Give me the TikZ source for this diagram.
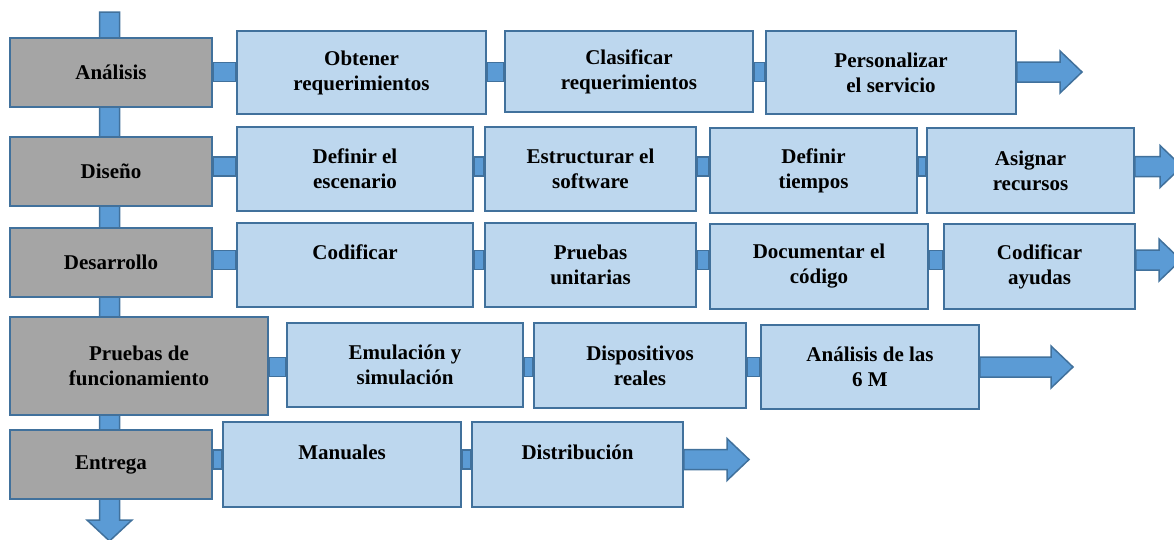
\documentclass[tikz,border=0pt]{standalone}
\usepackage{fontspec}
\setmainfont{Liberation Serif}
\usetikzlibrary{calc,backgrounds}

\definecolor{edge}{HTML}{41719C}
\definecolor{grayfill}{HTML}{A5A5A5}
\definecolor{taskfill}{HTML}{BDD7EE}
\definecolor{linkfill}{HTML}{5B9BD5}

\begin{document}
\begin{tikzpicture}[x=1pt,y=-1pt,
		phase/.style={draw=edge,line width=1.8pt,fill=grayfill,inner sep=0pt,align=center,font=\fontsize{21}{25}\selectfont\bfseries},
		task/.style={draw=edge,line width=1.8pt,fill=taskfill,inner sep=0pt,align=center,font=\fontsize{21}{25}\selectfont\bfseries},
		link/.style={draw=edge,line width=1.5pt,fill=linkfill,line join=miter}]
				\useasboundingbox (0,0) rectangle (1174,539);
				% phases
				\node (An) [phase,minimum width=202pt,minimum height=69pt] at (111,72.5) {Análisis};
				\node (Di) [phase,minimum width=202pt,minimum height=69pt] at (111,171.5) {Diseño};
				\node (De) [phase,minimum width=202pt,minimum height=69pt] at (111,262.5) {Desarrollo};
				\node (Pr) [phase,minimum width=258pt,minimum height=98pt] at (139,366) {Pruebas de\\funcionamiento};
				\node (En) [phase,minimum width=202pt,minimum height=69pt] at (111,464.5) {Entrega};
				% tasks
				\node (An1) [task,minimum width=249pt,minimum height=83pt] at (361.5,72.5) {Obtener\\requerimientos};
				\node (An2) [task,minimum width=248pt,minimum height=81pt] at (629,71.5) {Clasificar\\requerimientos};
				\node (An3) [task,minimum width=250pt,minimum height=83pt] at (891,72.5) {Personalizar\\el servicio};
				\node (Di1) [task,minimum width=236pt,minimum height=84pt] at (355,169) {Definir el\\escenario};
				\node (Di2) [task,minimum width=211pt,minimum height=84pt] at (590.5,169) {Estructurar el\\software};
				\node (Di3) [task,minimum width=207pt,minimum height=85pt] at (813.5,170.5) {Definir\\tiempos};
				\node (Di4) [task,minimum width=207pt,minimum height=85pt] at (1030.5,170.5) {Asignar\\recursos};
				\node (De1) [task,minimum width=236pt,minimum height=84pt] at (355,265) {Codificar\\\mbox{}};
				\node (De2) [task,minimum width=211pt,minimum height=84pt] at (590.5,265) {Pruebas\\unitarias};
				\node (De3) [task,minimum width=218pt,minimum height=85pt] at (819,266.5) {Documentar el\\código};
				\node (De4) [task,minimum width=191pt,minimum height=85pt] at (1039.5,266.5) {Codificar\\ayudas};
				\node (Pr1) [task,minimum width=236pt,minimum height=84pt] at (405,365) {Emulación y\\simulación};
				\node (Pr2) [task,minimum width=212pt,minimum height=85pt] at (640,365.5) {Dispositivos\\reales};
				\node (Pr3) [task,minimum width=218pt,minimum height=84pt] at (870,367) {Análisis de las\\6 M};
				\node (En1) [task,minimum width=238pt,minimum height=85pt] at (342,464.5) {Manuales\\\mbox{}};
				\node (En2) [task,minimum width=211pt,minimum height=85pt] at (577.5,464.5) {Distribución\\\mbox{}};
				% arrow tips and main axis
				\coordinate (t1) at (1082,72); \coordinate (t2) at (1182,166.5); \coordinate (t3) at (1181,260); \coordinate (t4) at (1073,367); \coordinate (t5) at (749,459.5);
				\coordinate (top) at (109.5,12); \coordinate (bot) at (109.5,541);
				\begin{scope}[on background layer]
				\draw [link] ($(top)+(-10,0)$) -- ($(top)+(10,0)$) -- ($(bot)+(10,-21)$) -- ($(bot)+(22.5,-21)$) -- (bot) -- ($(bot)+(-22.5,-21)$) -- ($(bot)+(-10,-21)$) -- cycle;
				\foreach \a/\b/\r in {An/An1/t1,An1/An2/t1,An2/An3/t1,Di/Di1/t2,Di1/Di2/t2,Di2/Di3/t2,Di3/Di4/t2,De/De1/t3,De1/De2/t3,De2/De3/t3,De3/De4/t3,Pr/Pr1/t4,Pr1/Pr2/t4,Pr2/Pr3/t4,En/En1/t5,En1/En2/t5}
					\draw [link] ($(\a.east|-\r)+(0,-9.5)$) rectangle ($(\b.west|-\r)+(0,9.5)$);
				\foreach \a/\t in {An3/t1,Di4/t2,De4/t3,Pr3/t4,En2/t5}
					\draw [link] ($(\a.east|-\t)+(0,-10)$) -- ($(\t)+(-22,-10)$) -- ($(\t)+(-22,-21)$) -- (\t) -- ($(\t)+(-22,21)$) -- ($(\t)+(-22,10)$) -- ($(\a.east|-\t)+(0,10)$) -- cycle;
				\end{scope}
			\end{tikzpicture}
\end{document}
